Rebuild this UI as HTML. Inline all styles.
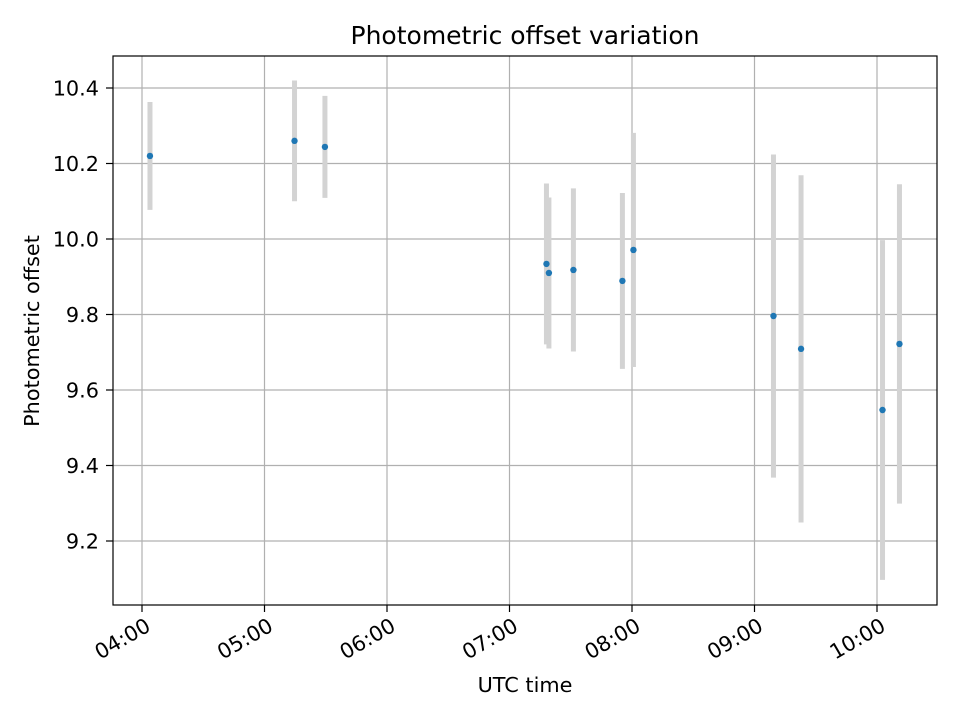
<!DOCTYPE html>
<html><head><meta charset="utf-8"><style>
body{margin:0;background:#fff}
svg text{font-family:"DejaVu Sans","Liberation Sans",sans-serif;fill:#000}
</style></head><body>
<svg id="chart" width="960" height="720" viewBox="0 0 960 720">
<rect width="960" height="720" fill="#fff"/>
<g id="grid"></g>
<g id="bars"></g>
<g id="pts"></g>
<rect x="113" y="56" width="824" height="549" fill="none" stroke="#000" stroke-width="1.2"/>
<g id="ticks"></g>
<text x="525" y="44" font-size="25" text-anchor="middle">Photometric offset variation</text>
<text x="525" y="692" font-size="20.8" text-anchor="middle">UTC time</text>
<text transform="translate(39,331) rotate(-90)" font-size="20.8" text-anchor="middle">Photometric offset</text>
</svg>
<script>
const minutes = [3.9, 14.7+60, 29.6+60, 198.1, 199.3, 211.3, 235.3, 240.7, 309.3, 322.8, 362.7, 371.0];
const offsets = [10.22, 10.26, 10.244, 9.934, 9.91, 9.918, 9.889, 9.971, 9.796, 9.709, 9.547, 9.722];
const errors = [0.143, 0.16, 0.135, 0.213, 0.20, 0.216, 0.233, 0.31, 0.428, 0.46, 0.45, 0.423];
const yTicks = [9.2, 9.4, 9.6, 9.8, 10.0, 10.2, 10.4];
const yTickLabels = ["9.2","9.4","9.6","9.8","10.0","10.2","10.4"];
const xTicks = [0, 60, 120, 180, 240, 300, 360];
const xTickLabels = ["04:00","05:00","06:00","07:00","08:00","09:00","10:00"];
const NS="http://www.w3.org/2000/svg";
function xs(m){return 142 + m*122.5/60;}
function ys(v){return 239 - (v-10.0)*377.5;}
function mk(tag, attrs, parent){const e=document.createElementNS(NS,tag);for(const k in attrs)e.setAttribute(k,attrs[k]);document.getElementById(parent).appendChild(e);return e;}
yTicks.forEach((v,i)=>{
  const y=ys(v);
  let g=mk('line',{x1:113,x2:937,y1:y,y2:y,stroke:'#b0b0b0','stroke-width':1.2},'grid');
  
  
  let t=mk('line',{x1:106,x2:113,y1:y,y2:y,stroke:'#000','stroke-width':1.2},'ticks');
  
  
  let l=mk('text',{x:99,y:y+7.5,'font-size':20.8,'text-anchor':'end'},'ticks');
  l.textContent=yTickLabels[i];
  
  
});
xTicks.forEach((m,i)=>{
  const x=xs(m);
  let g=mk('line',{x1:x,x2:x,y1:56,y2:605,stroke:'#b0b0b0','stroke-width':1.2},'grid');
  
  
  let t=mk('line',{x1:x,x2:x,y1:605,y2:612,stroke:'#000','stroke-width':1.2},'ticks');
  
  
  let l=mk('text',{transform:`translate(${x+2},${616}) rotate(-30)`,'font-size':20.8,'text-anchor':'end',y:16},'ticks');
  l.textContent=xTickLabels[i];
  
  
});
minutes.forEach((m,i)=>{
  const x=xs(m);
  let b=mk('line',{x1:x,x2:x,y1:ys(offsets[i]+errors[i]),y2:ys(offsets[i]-errors[i]),stroke:'#d3d3d3','stroke-width':5},'bars');
  
  
  let c=mk('circle',{cx:x,cy:ys(offsets[i]),r:3.2,fill:'#1f77b4'},'pts');
  
  
});
</script>
</body></html>
